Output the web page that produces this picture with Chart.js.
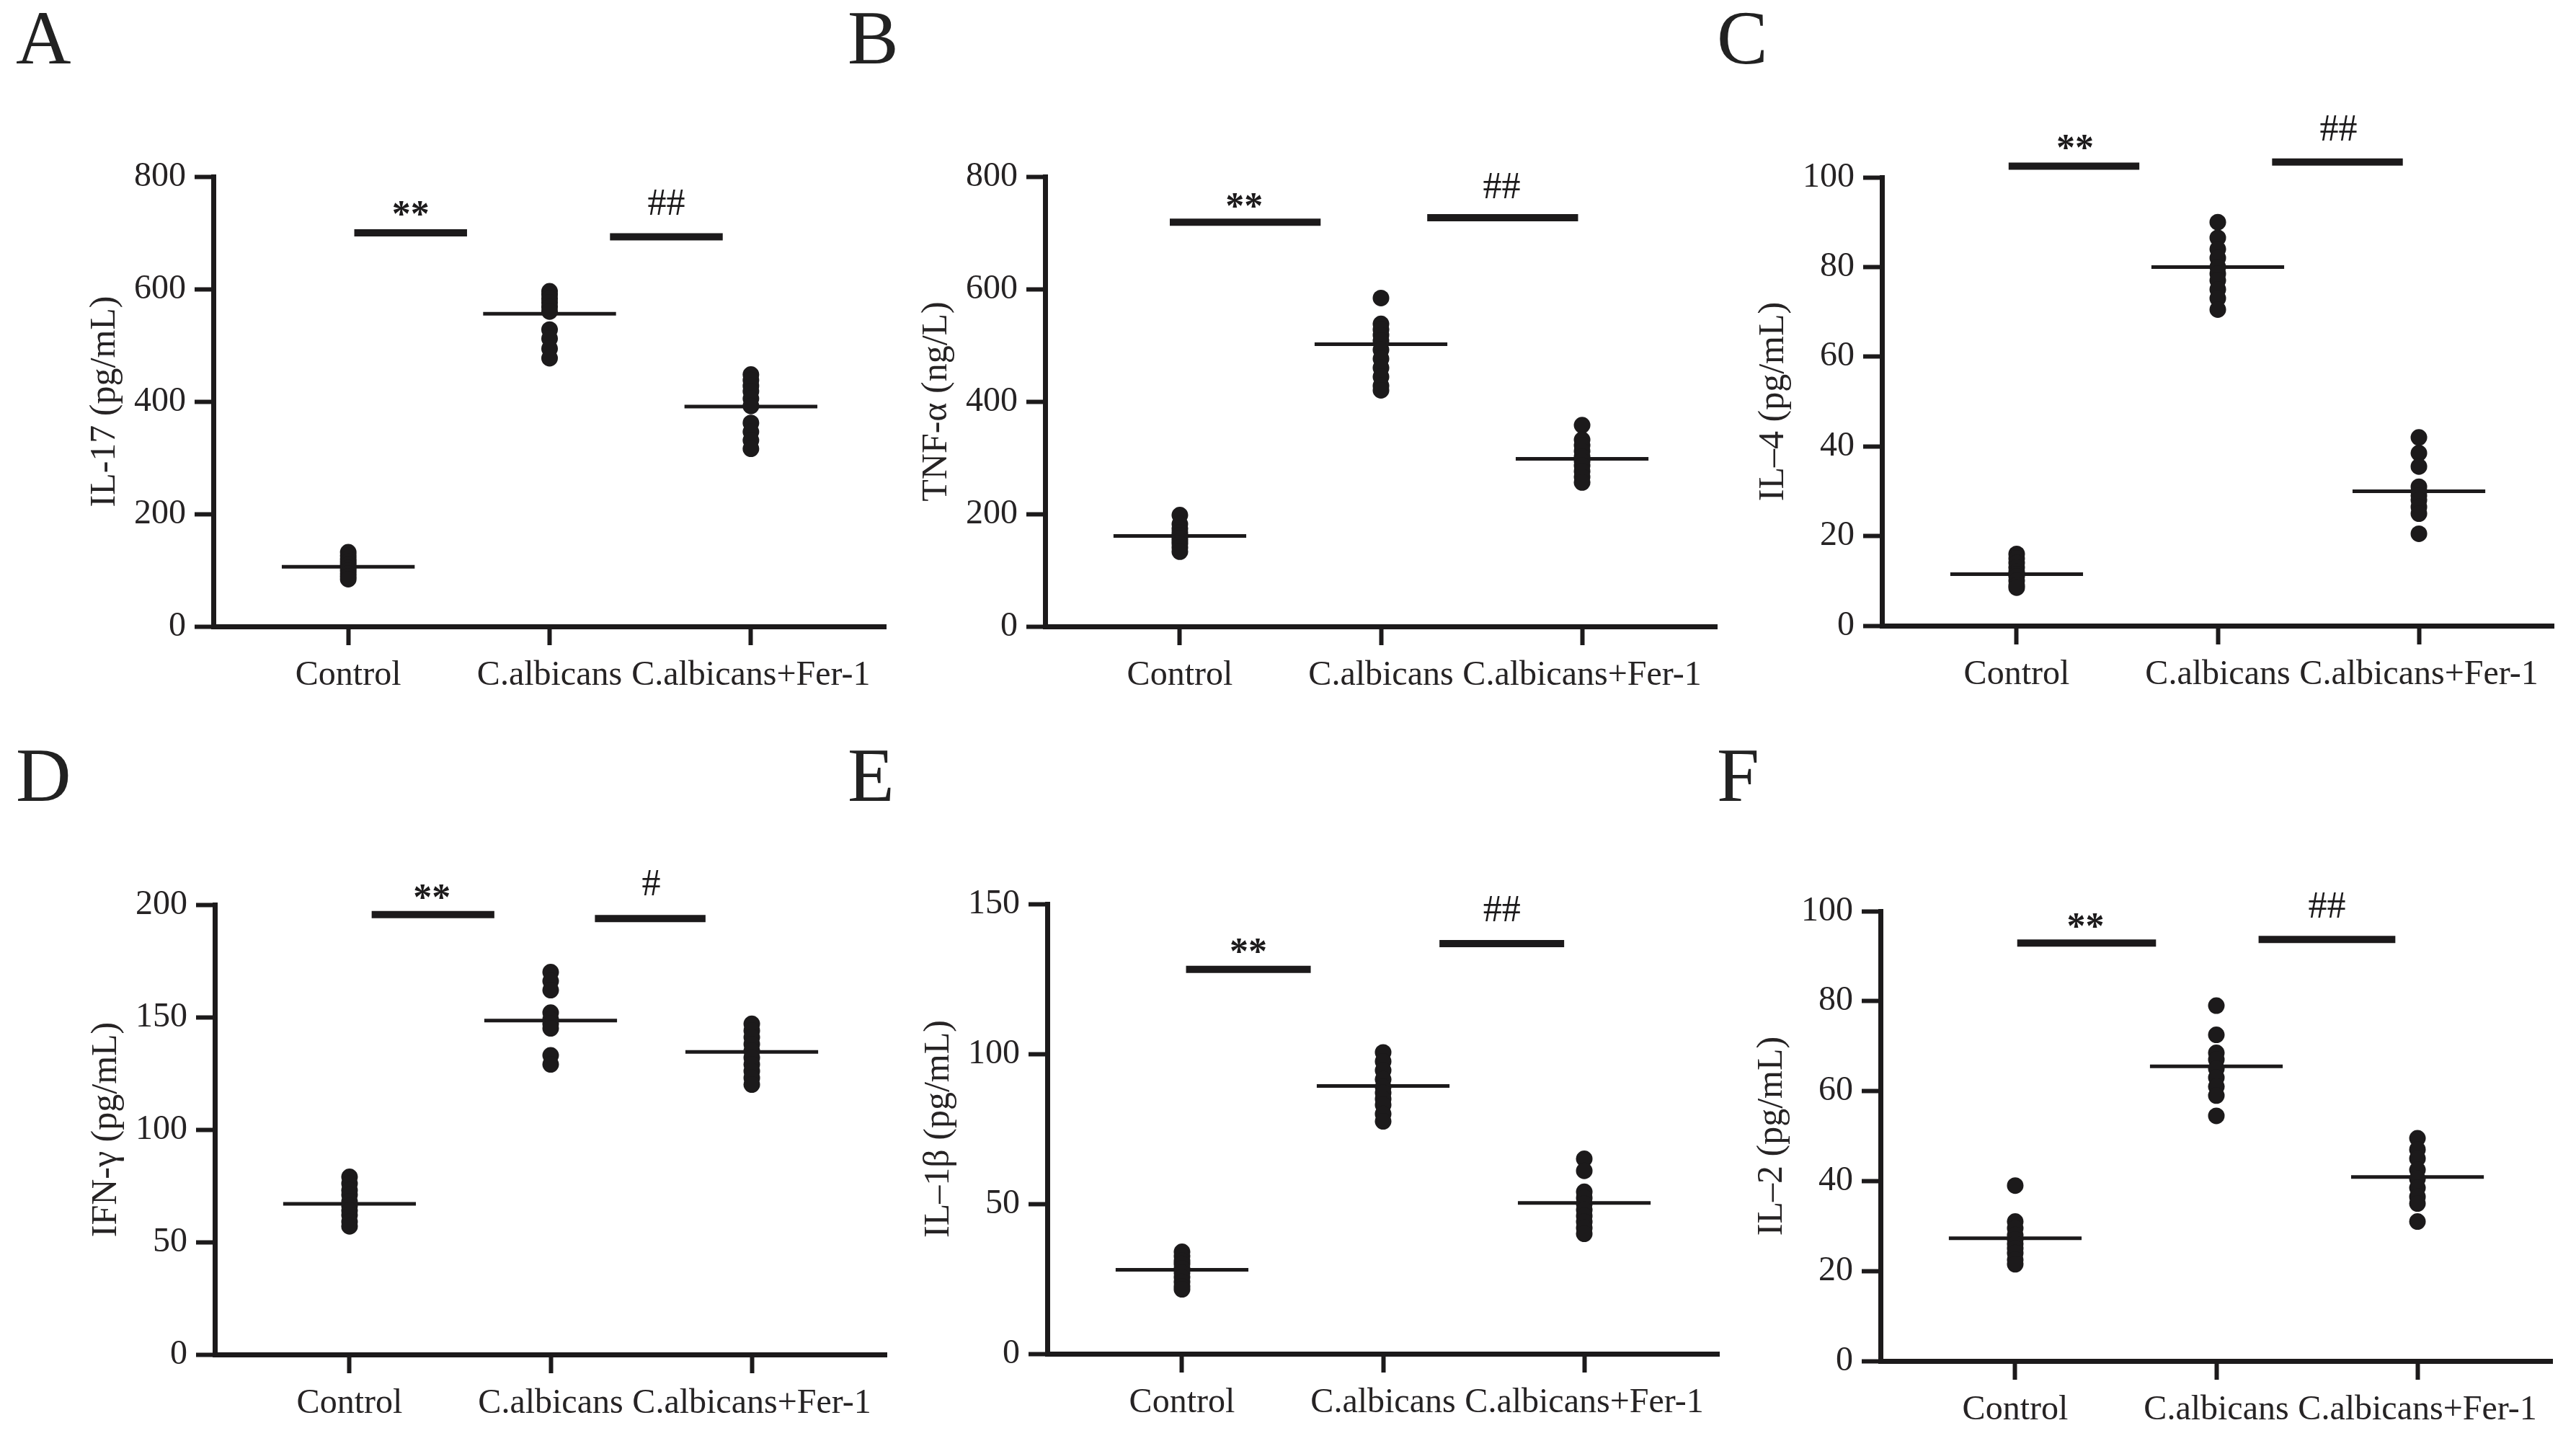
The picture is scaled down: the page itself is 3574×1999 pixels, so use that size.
<!DOCTYPE html>
<html>
<head>
<meta charset="utf-8">
<script src="https://cdn.jsdelivr.net/npm/chart.js@4.4.1/dist/chart.umd.min.js"></script>
<style>
html, body { margin: 0; padding: 0; background: #fff; }
body { width: 3574px; height: 1999px; position: relative; overflow: hidden;
       font-family: "Liberation Serif", "Times New Roman", serif; color: #222; }
canvas { position: absolute; }
.tag { position: absolute; font-size: 106px; line-height: 1; }
</style>
</head>
<body>
<div class="tag" style="left:22px;top:0px">A</div>
<div class="tag" style="left:1176px;top:0px">B</div>
<div class="tag" style="left:2382px;top:0px">C</div>
<div class="tag" style="left:22px;top:1023px">D</div>
<div class="tag" style="left:1176px;top:1023px">E</div>
<div class="tag" style="left:2382px;top:1023px">F</div>

<canvas id="chartA"></canvas>
<canvas id="chartB"></canvas>
<canvas id="chartC"></canvas>
<canvas id="chartD"></canvas>
<canvas id="chartE"></canvas>
<canvas id="chartF"></canvas>

<script>
// groups on the x axis
const groups = ['Control', 'C.albicans', 'C.albicans+Fer-1'];

// A - IL-17 (pg/mL)
const il17Values = [
    [132, 126, 120, 115, 110, 104, 99, 94, 89, 84],
    [596, 590, 583, 576, 568, 560, 528, 512, 494, 477],
    [448, 438, 428, 418, 405, 392, 362, 346, 331, 316]
];
const il17Means = [106, 556, 391];
const il17Sig = [
    { label: '**', from: 1.03, to: 1.59, y: 700, tx: 1.31, ty: 744 },
    { label: '##', from: 2.30, to: 2.86, y: 693, tx: 2.58, ty: 755 }
];

// B - TNF-α (ng/L)
const tnfValues = [
    [198, 182, 174, 167, 162, 157, 152, 147, 140, 133],
    [584, 538, 528, 518, 508, 492, 476, 460, 444, 428, 420],
    [358, 332, 322, 312, 302, 294, 286, 276, 266, 256]
];
const tnfMeans = [161, 502, 298];
const tnfSig = [
    { label: '**', from: 0.95, to: 1.70, y: 719, tx: 1.32, ty: 758 },
    { label: '##', from: 2.23, to: 2.98, y: 727, tx: 2.60, ty: 784 }
];

// C - IL-4 (pg/mL)
const il4Values = [
    [16, 15, 14, 13, 12, 11.5, 11, 10, 9, 8.5],
    [90, 86.5, 84, 82, 80, 78.5, 77, 75, 73, 70.5],
    [42, 38.5, 35.5, 31, 30, 29, 28, 26.5, 25, 20.5]
];
const il4Means = [11.5, 80, 30];
const il4Sig = [
    { label: '**', from: 0.96, to: 1.61, y: 102.5, tx: 1.29, ty: 107.8 },
    { label: '##', from: 2.27, to: 2.92, y: 103.4, tx: 2.60, ty: 111.0 }
];

// D - IFN-γ (pg/mL)
const ifnValues = [
    [79, 76, 73, 71, 68, 66, 64, 62, 59, 57],
    [170, 166, 162, 152, 149, 147, 145, 133, 129],
    [147, 144, 141, 138, 135, 132, 129, 126, 123, 120]
];
const ifnMeans = [67, 148.5, 134.5];
const ifnSig = [
    { label: '**', from: 1.11, to: 1.72, y: 195.6, tx: 1.41, ty: 205.9 },
    { label: '#', from: 2.22, to: 2.77, y: 193.8, tx: 2.50, ty: 209.8 }
];

// E - IL-1β (pg/mL)
const il1bValues = [
    [34, 32.5, 31, 30, 28.5, 27, 25.5, 24, 22.5, 21.5],
    [100.5, 97.5, 94.5, 91.5, 89, 87, 85, 83, 80, 77.5],
    [65, 61, 54, 52, 50, 48, 46, 44, 42, 40]
];
const il1bMeans = [28, 89.3, 50.3];
const il1bSig = [
    { label: '**', from: 1.02, to: 1.64, y: 128.2, tx: 1.33, ty: 136.1 },
    { label: '##', from: 2.28, to: 2.90, y: 136.8, tx: 2.59, ty: 148.5 }
];

// F - IL-2 (pg/mL)
const il2Values = [
    [39, 31, 29.5, 28, 27, 26, 25, 24, 22.5, 21.5],
    [79, 72.5, 68.5, 67, 65, 63, 61, 59, 54.5],
    [49.5, 47, 45, 42.5, 40.5, 38.5, 36.5, 35, 31]
];
const il2Means = [27.3, 65.5, 40.9];
const il2Sig = [
    { label: '**', from: 1.01, to: 1.70, y: 92.9, tx: 1.35, ty: 97.9 },
    { label: '##', from: 2.21, to: 2.89, y: 93.7, tx: 2.55, ty: 101.3 }
];

const ink = '#1c1a1b';
const textInk = '#262324';
const serif = '"Liberation Serif", "Times New Roman", serif';

// plot area of every panel, in page pixels
const panels = [
    { id: 'chartA', title: 'IL-17 (pg/mL)', values: il17Values, means: il17Means, sig: il17Sig, yMax: 800, step: 200,
      box: { left: 296, right: 1229, top: 245, bottom: 869 } },
    { id: 'chartB', title: 'TNF-α (ng/L)', values: tnfValues, means: tnfMeans, sig: tnfSig, yMax: 800, step: 200,
      box: { left: 1450, right: 2382, top: 245, bottom: 869 } },
    { id: 'chartC', title: 'IL–4 (pg/mL)', values: il4Values, means: il4Means, sig: il4Sig, yMax: 100, step: 20,
      box: { left: 2611, right: 3543, top: 246, bottom: 868 } },
    { id: 'chartD', title: 'IFN-γ (pg/mL)', values: ifnValues, means: ifnMeans, sig: ifnSig, yMax: 200, step: 50,
      box: { left: 298, right: 1230, top: 1255, bottom: 1879 } },
    { id: 'chartE', title: 'IL–1β (pg/mL)', values: il1bValues, means: il1bMeans, sig: il1bSig, yMax: 150, step: 50,
      box: { left: 1453, right: 2385, top: 1254, bottom: 1878 } },
    { id: 'chartF', title: 'IL–2 (pg/mL)', values: il2Values, means: il2Means, sig: il2Sig, yMax: 100, step: 20,
      box: { left: 2609, right: 3541, top: 1264, bottom: 1888 } }
];

const padLeft = 260, padTop = 200, padRight = 60, padBottom = 130;

// draws the ** / ## marks above the bars
const sigText = {
    id: 'sigText',
    afterDatasetsDraw(chart, args, opts) {
        const ctx = chart.ctx;
        const x = chart.scales.x, y = chart.scales.y;
        ctx.save();
        ctx.fillStyle = ink;
        ctx.textAlign = 'center';
        ctx.textBaseline = 'alphabetic';
        (opts.marks || []).forEach(m => {
            ctx.font = (m.label.charAt(0) === '*' ? 'bold 52px ' : '52px ') + serif;
            const mt = ctx.measureText(m.label);
            const cx = x.getPixelForValue(m.tx);
            const cy = y.getPixelForValue(m.ty);
            ctx.fillText(m.label, cx, cy + (mt.actualBoundingBoxAscent - mt.actualBoundingBoxDescent) / 2);
        });
        ctx.restore();
    }
};

panels.forEach(p => {
    const canvas = document.getElementById(p.id);
    const w = p.box.right - p.box.left + padLeft + padRight;
    const h = p.box.bottom - p.box.top + padTop + padBottom;
    canvas.width = w;
    canvas.height = h;
    canvas.style.left = (p.box.left - padLeft) + 'px';
    canvas.style.top = (p.box.top - padTop) + 'px';
    canvas.style.width = w + 'px';
    canvas.style.height = h + 'px';

    const datasets = [];
    p.values.forEach((vals, i) => {
        datasets.push({
            data: vals.map(v => ({ x: i + 1, y: v })),
            showLine: false,
            pointRadius: 11.5,
            pointBackgroundColor: ink,
            pointBorderWidth: 0,
            clip: false
        });
    });
    p.means.forEach((m, i) => {
        datasets.push({
            data: [{ x: i + 1 - 0.33, y: m }, { x: i + 1 + 0.33, y: m }],
            showLine: true,
            borderColor: ink,
            borderWidth: 5,
            pointRadius: 0
        });
    });
    p.sig.forEach(s => {
        datasets.push({
            data: [{ x: s.from, y: s.y }, { x: s.to, y: s.y }],
            showLine: true,
            borderColor: ink,
            borderWidth: 10,
            pointRadius: 0,
            clip: false
        });
    });

    new Chart(canvas.getContext('2d'), {
        type: 'scatter',
        data: { datasets: datasets },
        plugins: [sigText],
        options: {
            responsive: false,
            devicePixelRatio: 1,
            animation: false,
            events: [],
            layout: { padding: { left: 0, top: padTop, right: padRight, bottom: 0 } },
            plugins: {
                legend: { display: false },
                tooltip: { enabled: false },
                sigText: { marks: p.sig }
            },
            scales: {
                x: {
                    type: 'linear',
                    min: 0.33,
                    max: 3.67,
                    afterBuildTicks: s => { s.ticks = groups.map((g, i) => ({ value: i + 1 })); },
                    afterFit: s => { s.height = padBottom; },
                    ticks: {
                        autoSkip: false,
                        maxRotation: 0,
                        color: textInk,
                        font: { family: serif, size: 48 },
                        padding: 14,
                        callback: v => groups[Math.round(v) - 1]
                    },
                    grid: { drawOnChartArea: false, tickLength: 26, tickWidth: 6, tickColor: ink },
                    border: { color: ink, width: 7 }
                },
                y: {
                    min: 0,
                    max: p.yMax,
                    afterFit: s => { s.width = padLeft; },
                    ticks: {
                        stepSize: p.step,
                        color: textInk,
                        font: { family: serif, size: 48 },
                        padding: 12
                    },
                    grid: { drawOnChartArea: false, tickLength: 26, tickWidth: 6, tickColor: ink },
                    border: { color: ink, width: 7 },
                    title: {
                        display: true,
                        text: p.title,
                        color: textInk,
                        font: { family: serif, size: 50 },
                        padding: { top: 80, bottom: 0 }
                    }
                }
            }
        }
    });
});
</script>
</body>
</html>
